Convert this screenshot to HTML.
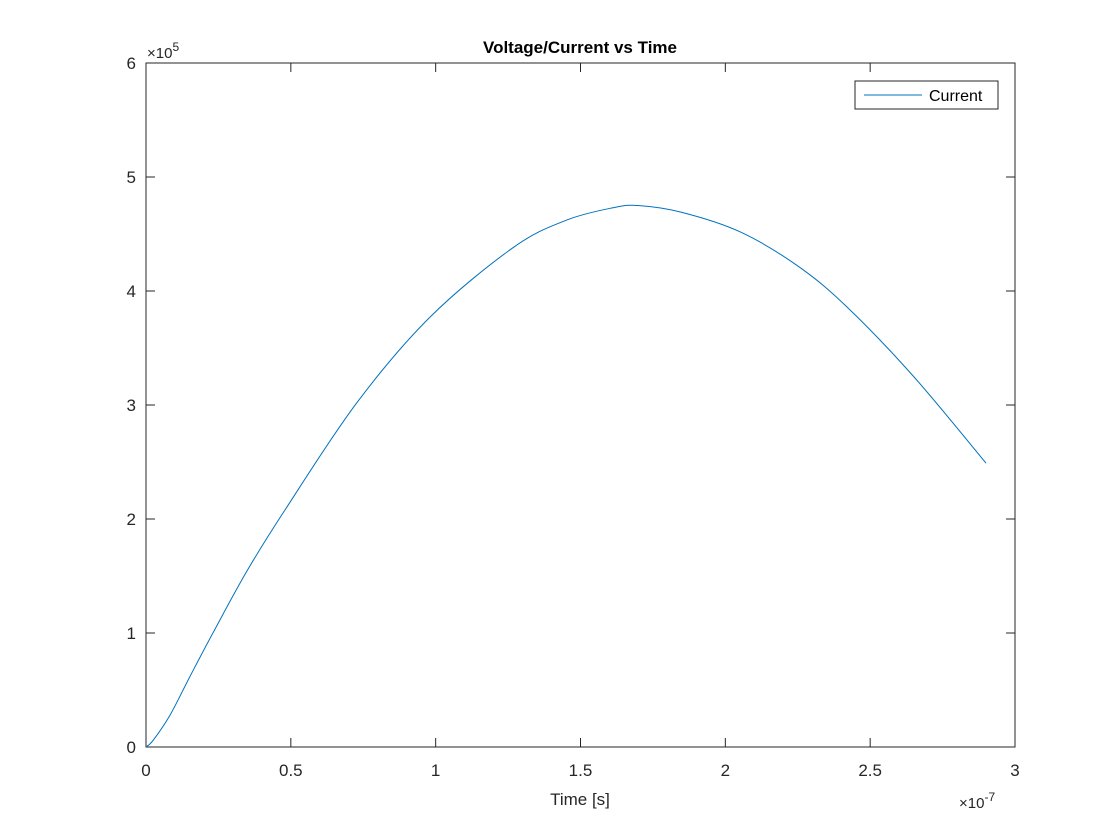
<!DOCTYPE html>
<html><head><meta charset="utf-8"><style>
html,body{margin:0;padding:0;background:#fff;}
svg{display:block;font-family:"Liberation Sans",sans-serif;}
</style></head><body>
<svg id="chart" width="1120" height="840">
<rect x="0" y="0" width="1120" height="840" fill="#fff"/>
<rect x="146" y="63" width="869" height="684" fill="#fff" stroke="#262626" stroke-width="1"/>
<g id="ticks"></g>
<path id="curve" fill="none" stroke="#0072bd" stroke-width="1"/>
<text x="580" y="53" text-anchor="middle" font-size="17" font-weight="bold" fill="#000">Voltage/Current vs Time</text>
<text x="580" y="805" text-anchor="middle" font-size="17" fill="#262626">Time [s]</text>
<text x="147" y="58" font-size="15" fill="#262626">×10<tspan dy="-7" font-size="12">5</tspan></text>
<text x="959" y="808" font-size="15" fill="#262626">×10<tspan dy="-7" font-size="12">-7</tspan></text>
<g>
<rect x="855" y="81" width="143" height="28" fill="#fff" stroke="#262626" stroke-width="1"/>
<line x1="864" y1="95" x2="922" y2="95" stroke="#0072bd" stroke-width="1"/>
<text x="929" y="101" font-size="16" fill="#000">Current</text>
</g>
</svg>
<script>
const times = [0,0.025,0.083,0.15,0.231,0.35,0.48,0.728,0.98,1.267,1.45,1.612,1.698,1.85,2.05,2.25,2.42,2.65,2.9];
const currents = [0,0.06,0.28,0.61,1.0,1.55,2.08,3.02,3.77,4.38,4.62,4.73,4.75,4.69,4.52,4.22,3.86,3.25,2.49];
const xTicks = [0,0.5,1,1.5,2,2.5,3];
const xTickLabels = ["0","0.5","1","1.5","2","2.5","3"];
const yTicks = [0,1,2,3,4,5,6];
const yTickLabels = ["0","1","2","3","4","5","6"];

const X0=146,X1=1015,Y0=747,Y1=63;
function xs(v){return X0+(v-0)/(3-0)*(X1-X0);}
function ys(v){return Y0-(v-0)/(6-0)*(Y0-Y1);}
const NS="http://www.w3.org/2000/svg";
const g=document.getElementById('ticks');
xTicks.forEach((t,i)=>{
  const x=xs(t);
  [[Y0,Y0-9],[Y1,Y1+9]].forEach(p=>{
    const l=document.createElementNS(NS,'line');
    l.setAttribute('x1',x);l.setAttribute('x2',x);l.setAttribute('y1',p[0]);l.setAttribute('y2',p[1]);
    l.setAttribute('stroke','#262626');
    
    
    g.appendChild(l);
  });
  const tx=document.createElementNS(NS,'text');
  tx.setAttribute('x',x);tx.setAttribute('y',Y0+29);tx.setAttribute('text-anchor','middle');
  tx.setAttribute('font-size','17');tx.setAttribute('fill','#262626');
  tx.textContent=xTickLabels[i];
  
  
  g.appendChild(tx);
});
yTicks.forEach((t,i)=>{
  const y=ys(t);
  [[X0,X0+9],[X1,X1-9]].forEach(p=>{
    const l=document.createElementNS(NS,'line');
    l.setAttribute('x1',p[0]);l.setAttribute('x2',p[1]);l.setAttribute('y1',y);l.setAttribute('y2',y);
    l.setAttribute('stroke','#262626');
    
    
    g.appendChild(l);
  });
  const tx=document.createElementNS(NS,'text');
  tx.setAttribute('x',X0-10);tx.setAttribute('y',y+6);tx.setAttribute('text-anchor','end');
  tx.setAttribute('font-size','17');tx.setAttribute('fill','#262626');
  tx.textContent=yTickLabels[i];
  
  
  g.appendChild(tx);
});
const pts=times.map((t,i)=>[xs(t),ys(currents[i])]);
let d='M'+pts[0][0]+','+pts[0][1];
for(let i=0;i<pts.length-1;i++){
  const p0=pts[Math.max(0,i-1)],p1=pts[i],p2=pts[i+1],p3=pts[Math.min(pts.length-1,i+2)];
  const c1=[p1[0]+(p2[0]-p0[0])/6,p1[1]+(p2[1]-p0[1])/6];
  const c2=[p2[0]-(p3[0]-p1[0])/6,p2[1]-(p3[1]-p1[1])/6];
  d+=' C'+c1[0]+','+c1[1]+' '+c2[0]+','+c2[1]+' '+p2[0]+','+p2[1];
}
document.getElementById('curve').setAttribute('d',d);
</script>
</body></html>
